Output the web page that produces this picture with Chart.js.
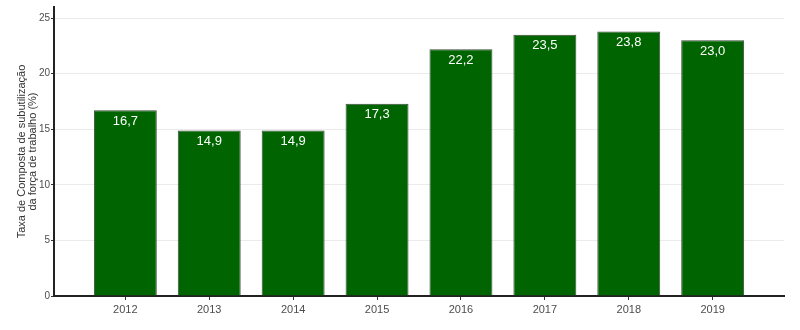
<!DOCTYPE html>
<html>
<head>
<meta charset="utf-8">
<script src="https://cdn.jsdelivr.net/npm/chart.js@4"></script>
<style>
  html, body { margin: 0; padding: 0; background: #fff; }
  #wrap { width: 800px; height: 330px; }
</style>
</head>
<body>
<div id="wrap"><canvas id="chart"></canvas></div>
<script>
// Taxa composta de subutilização, 2012-2019
var years = ['2012', '2013', '2014', '2015', '2016', '2017', '2018', '2019'];
var taxa = [16.7, 14.9, 14.9, 17.3, 22.2, 23.5, 23.8, 23.0];
var yTicks = [0, 5, 10, 15, 20, 25];

var points = years.map(function (y, i) { return { x: i + 1, y: taxa[i] }; });

// white value labels just under the top of each bar
var barLabels = {
  id: 'barLabels',
  afterDatasetsDraw: function (chart) {
    var ctx = chart.ctx;
    var meta = chart.getDatasetMeta(0);
    ctx.save();
    ctx.fillStyle = '#ffffff';
    ctx.font = '13px "Liberation Sans", Arial, sans-serif';
    ctx.textAlign = 'center';
    ctx.textBaseline = 'middle';
    meta.data.forEach(function (bar, i) {
      ctx.fillText(taxa[i].toFixed(1).replace('.', ','), bar.x, bar.y + 11);
    });
    ctx.restore();
  }
};

new Chart(document.getElementById('chart'), {
  type: 'bar',
  data: {
    datasets: [{
      data: points,
      backgroundColor: '#006400',
      borderColor: '#3c4a3c',
      borderWidth: 1,
      barPercentage: 0.75,
      categoryPercentage: 1
    }]
  },
  options: {
    responsive: true,
    maintainAspectRatio: false,
    animation: false,
    layout: { padding: { left: 16, right: 16, top: 7, bottom: 0 } },
    plugins: { legend: { display: false }, tooltip: { enabled: false } },
    scales: {
      x: {
        type: 'linear',
        min: 0.15,
        max: 8.85,
        offset: false,
        afterBuildTicks: function (scale) {
          scale.ticks = years.map(function (y, i) { return { value: i + 1 }; });
        },
        afterFit: function (scale) { scale.height = 34; },
        ticks: {
          color: '#4d4d4d',
          font: { family: '"Liberation Sans", Arial, sans-serif', size: 11 },
          padding: 3,
          callback: function (v) { return years[v - 1]; }
        },
        grid: { offset: false, drawOnChartArea: false, drawTicks: true, tickLength: 4, tickColor: '#333' },
        border: { color: '#222', width: 2 }
      },
      y: {
        min: 0,
        max: 26,
        afterBuildTicks: function (scale) {
          scale.ticks = yTicks.map(function (v) { return { value: v }; });
        },
        afterFit: function (scale) { scale.width = 38; },
        ticks: {
          color: '#4d4d4d',
          font: { family: '"Liberation Sans", Arial, sans-serif', size: 10 },
          padding: 1
        },
        grid: { color: '#ebebeb', tickLength: 3, tickColor: '#333' },
        border: { color: '#222', width: 2 },
        title: {
          display: true,
          text: ['Taxa de Composta de subutilização', 'da força de trabalho (%)'],
          color: '#333',
          font: { family: '"Liberation Sans", Arial, sans-serif', size: 11, lineHeight: 1 },
          padding: { top: 0, bottom: 0 }
        }
      }
    }
  },
  plugins: [barLabels]
});
</script>
</body>
</html>
